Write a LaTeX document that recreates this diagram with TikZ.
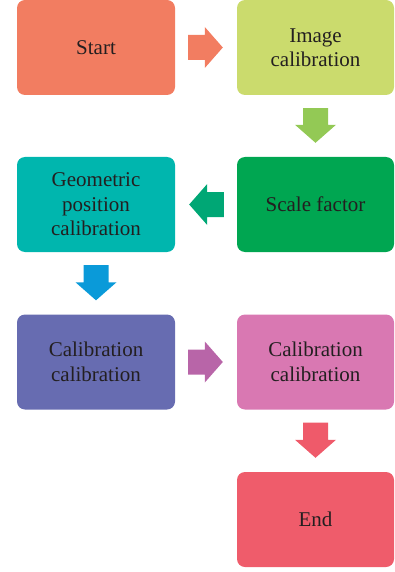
\documentclass[tikz,border=0pt]{standalone}
\usepackage{fontspec}
\setmainfont{Liberation Serif}
\usetikzlibrary{calc,positioning}

\definecolor{cStart}{HTML}{F27D61}
\definecolor{cImage}{HTML}{CBDB6D}
\definecolor{cImageArr}{HTML}{93C955}
\definecolor{cScale}{HTML}{00A651}
\definecolor{cScaleArr}{HTML}{00A775}
\definecolor{cGeo}{HTML}{00B6AE}
\definecolor{cGeoArr}{HTML}{0A9AD9}
\definecolor{cCalA}{HTML}{676CB1}
\definecolor{cCalAArr}{HTML}{B865A8}
\definecolor{cCalB}{HTML}{D978B2}
\definecolor{cEndArr}{HTML}{EF5A6A}
\definecolor{cEnd}{HTML}{EF5C6B}
\definecolor{txt}{HTML}{231F20}

\tikzset{
  box/.style={rounded corners=8pt, minimum width=158pt, minimum height=95pt,
    align=center, text=txt, font=\fontsize{21}{24.5}\selectfont, inner sep=2pt},
}

% block arrow between two boxes, 13pt/14pt clear of their borders
\newcommand\blockarrow[3]{%
  \path let \p1=($(#2)!13pt!(#3)$), \p2=($(#3)!14pt!(#2)$),
    \n1={atan2(\y2-\y1,\x2-\x1)}, \n2={veclen(\x2-\x1,\y2-\y1)} in
    [fill=#1, shift={(\p1)}, rotate=\n1]
    (0pt,-12.5pt) -- (\n2-18pt,-12.5pt) -- (\n2-18pt,-20.5pt) -- (\n2,0pt)
    -- (\n2-18pt,20.5pt) -- (\n2-18pt,12.5pt) -- (0pt,12.5pt) -- cycle;}

\begin{document}
\begin{tikzpicture}[x=1pt, y=-1pt]
  \useasboundingbox (0,0) rectangle (394,572);

  \node[box, fill=cStart] (start) at (96,47.5) {Start};
  \node[box, fill=cImage, minimum width=157pt] (image) at (315.5,47.5) {Image\\calibration};
  \node[box, fill=cScale, minimum width=157pt] (scale) at (315.5,204.5) {Scale factor};
  \node[box, fill=cGeo] (geo) at (96,204.5) {Geometric\\position\\calibration};
  \node[box, fill=cCalA] (calA) at (96,362) {Calibration\\calibration};
  \node[box, fill=cCalB, minimum width=157pt] (calB) at (315.5,362) {Calibration\\calibration};
  \node[box, fill=cEnd, minimum width=157pt] (end) at (315.5,519.5) {End};

  \blockarrow{cStart}{start.east}{image.west}
  \blockarrow{cImageArr}{image.south}{scale.north}
  \blockarrow{cScaleArr}{scale.west}{geo.east}
  \blockarrow{cGeoArr}{geo.south}{calA.north}
  \blockarrow{cCalAArr}{calA.east}{calB.west}
  \blockarrow{cEndArr}{calB.south}{end.north}
\end{tikzpicture}
\end{document}
